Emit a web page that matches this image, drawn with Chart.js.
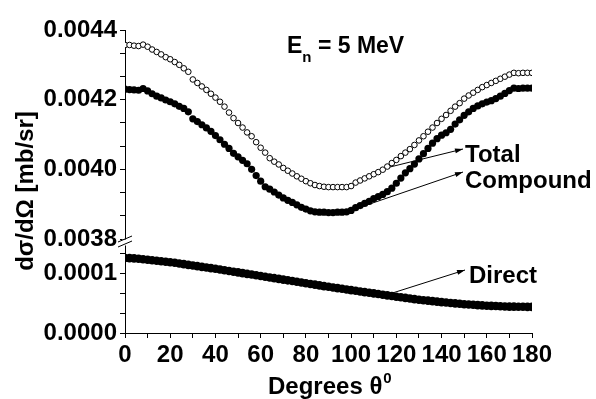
<!DOCTYPE html>
<html><head><meta charset="utf-8">
<script src="https://cdn.jsdelivr.net/npm/chart.js@4/dist/chart.umd.min.js"></script>
<style>html,body{margin:0;padding:0;background:#fff}canvas{display:block}</style>
</head><body><canvas id="c" width="596" height="399"></canvas>
<script>
const angles = [0,2,4,6,8,10,12,14,16,18,20,22,24,26,28,30,32,34,36,38,40,42,44,46,48,50,52,54,56,58,60,62,64,66,68,70,72,74,76,78,80,82,84,86,88,90,92,94,96,98,100,102,104,106,108,110,112,114,116,118,120,122,124,126,128,130,132,134,136,138,140,142,144,146,148,150,152,154,156,158,160,162,164,166,168,170,172,174,176,178,180];

const total = [0.004357,0.004357,0.004355,0.004354,0.004358,0.004352,0.004344,0.004337,0.004330,0.004322,0.004316,0.004308,0.004300,0.004290,0.004280,0.004258,0.004248,0.004238,0.004228,0.004217,0.004206,0.004194,0.004180,0.004163,0.004147,0.004133,0.004120,0.004106,0.004095,0.004078,0.004062,0.004048,0.004032,0.004022,0.004014,0.004004,0.003996,0.003988,0.003980,0.003973,0.003966,0.003960,0.003955,0.003952,0.003950,0.003949,0.003949,0.003949,0.003949,0.003949,0.003952,0.003962,0.003968,0.003974,0.003980,0.003986,0.003992,0.003999,0.004008,0.004018,0.004027,0.004038,0.004048,0.004058,0.004070,0.004083,0.004095,0.004108,0.004120,0.004133,0.004145,0.004156,0.004168,0.004180,0.004190,0.004203,0.004212,0.004220,0.004228,0.004236,0.004242,0.004248,0.004254,0.004260,0.004266,0.004272,0.004277,0.004276,0.004277,0.004277,0.004277];

const compound = [0.004230,0.004229,0.004228,0.004227,0.004232,0.004225,0.004217,0.004210,0.004205,0.004199,0.004194,0.004188,0.004181,0.004175,0.004165,0.004145,0.004137,0.004128,0.004119,0.004109,0.004097,0.004085,0.004072,0.004060,0.004046,0.004036,0.004026,0.004016,0.004000,0.003982,0.003966,0.003950,0.003943,0.003935,0.003926,0.003918,0.003911,0.003905,0.003898,0.003891,0.003886,0.003881,0.003878,0.003877,0.003877,0.003876,0.003876,0.003877,0.003877,0.003878,0.003882,0.003890,0.003896,0.003902,0.003908,0.003916,0.003922,0.003928,0.003936,0.003946,0.003960,0.003975,0.003990,0.004002,0.004015,0.004030,0.004045,0.004060,0.004075,0.004088,0.004098,0.004105,0.004115,0.004130,0.004142,0.004155,0.004165,0.004175,0.004182,0.004188,0.004193,0.004197,0.004203,0.004210,0.004218,0.004226,0.004233,0.004232,0.004233,0.004233,0.004233];

const direct = [0.0001250,0.0001248,0.0001244,0.0001238,0.0001230,0.0001220,0.0001213,0.0001205,0.0001197,0.0001189,0.0001180,0.0001170,0.0001159,0.0001148,0.0001136,0.0001125,0.0001114,0.0001103,0.0001092,0.0001081,0.0001070,0.0001058,0.0001046,0.0001034,0.0001022,0.0001010,0.0000998,0.0000986,0.0000974,0.0000962,0.0000950,0.0000938,0.0000926,0.0000914,0.0000902,0.0000890,0.0000878,0.0000866,0.0000854,0.0000842,0.0000830,0.0000818,0.0000806,0.0000794,0.0000782,0.0000770,0.0000759,0.0000748,0.0000737,0.0000726,0.0000715,0.0000704,0.0000693,0.0000682,0.0000671,0.0000660,0.0000649,0.0000638,0.0000627,0.0000616,0.0000605,0.0000595,0.0000585,0.0000575,0.0000565,0.0000555,0.0000547,0.0000539,0.0000531,0.0000523,0.0000515,0.0000508,0.0000501,0.0000494,0.0000487,0.0000480,0.0000475,0.0000470,0.0000465,0.0000460,0.0000455,0.0000452,0.0000449,0.0000446,0.0000443,0.0000440,0.0000439,0.0000438,0.0000437,0.0000436,0.0000435];

const xTickLabels = ['0','20','40','60','80','100','120','140','160','180'];
const topTickLabels = ['0.0038','0.0040','0.0042','0.0044'];
const bottomTickLabels = ['0.0000','0.0001'];
const seriesNames = ['Total','Compound','Direct'];

const FONT = '"Liberation Sans", Arial, sans-serif';
Chart.defaults.font.family = FONT;
Chart.defaults.font.weight = 'bold';
Chart.defaults.font.size = 24;
Chart.defaults.color = '#000';

function withMinors(majors) {
  const vals = majors.map(Number);
  const out = [];
  for (let i = 0; i < vals.length; i++) {
    out.push(vals[i]);
    const step = i < vals.length - 1 ? vals[i + 1] - vals[i] : vals[i] - vals[i - 1];
    out.push(vals[i] + step / 3);
    if (i < vals.length - 1) out.push(vals[i] + 2 * step / 3);
  }
  return out;
}
const topTicks = withMinors(topTickLabels).filter(v => v <= 0.0044 + 1e-9);
const botTicks = withMinors(bottomTickLabels);
function majorLabel(labels) {
  return function (v) {
    for (const l of labels) if (Math.abs(Number(l) - v) < 1e-9) return l;
    return '';
  };
}

const pts = arr => angles.map((a, i) => ({x: a, y: arr[i]}));

const yCommon = {
  type: 'linear',
  position: 'left',
  stack: 'ys',
  offset: false,
  border: {color: '#000', width: 1},
  grid: {drawOnChartArea: false, drawTicks: true, tickLength: 5, color: '#000', tickColor: '#000'},
  afterFit: s => { s.width = 125; }
};

const annot = {
  id: 'annot',
  afterDraw(chart) {
    const ctx = chart.ctx;
    ctx.save();
    // axis break
    ctx.fillStyle = '#fff';
    ctx.fillRect(122, 239.5, 7, 6);
    ctx.strokeStyle = '#000';
    ctx.lineWidth = 1;
    ctx.beginPath();
    ctx.moveTo(118, 242); ctx.lineTo(132, 236);
    ctx.moveTo(118, 247); ctx.lineTo(132, 241);
    ctx.stroke();

    ctx.fillStyle = '#000';
    ctx.textBaseline = 'alphabetic';
    ctx.textAlign = 'left';
    // E_n = 5 MeV
    ctx.font = 'bold 23px ' + FONT;
    ctx.fillText('E', 287, 53);
    let w = ctx.measureText('E').width;
    ctx.font = 'bold 15px ' + FONT;
    ctx.fillText('n', 287 + w, 62);
    const w2 = ctx.measureText('n').width;
    ctx.font = 'bold 23px ' + FONT;
    ctx.fillText(' = 5 MeV', 287 + w + w2, 53);

    // series labels
    ctx.font = 'bold 24px ' + FONT;
    ctx.fillText(seriesNames[0], 465, 162);
    ctx.fillText(seriesNames[1], 465, 188);
    ctx.fillText(seriesNames[2], 469, 283);

    // arrows
    function arrow(x1, y1, x2, y2) {
      ctx.beginPath();
      ctx.moveTo(x1, y1); ctx.lineTo(x2, y2);
      ctx.stroke();
      const ang = Math.atan2(y2 - y1, x2 - x1);
      const L = 8, H = 2.5;
      ctx.beginPath();
      ctx.moveTo(x2, y2);
      ctx.lineTo(x2 - L * Math.cos(ang) + H * Math.sin(ang), y2 - L * Math.sin(ang) - H * Math.cos(ang));
      ctx.lineTo(x2 - L * Math.cos(ang) - H * Math.sin(ang), y2 - L * Math.sin(ang) + H * Math.cos(ang));
      ctx.closePath();
      ctx.fill();
    }
    ctx.lineWidth = 1;
    arrow(390, 167, 463, 149);
    arrow(358, 208, 463, 172);
    arrow(383, 296, 465, 270);

    // x title
    ctx.font = 'bold 24px ' + FONT;
    const t1 = 'Degrees \u03B8';
    ctx.fillText(t1, 268, 394);
    const tw = ctx.measureText(t1).width;
    ctx.font = 'bold 15px ' + FONT;
    ctx.fillText('0', 268 + tw + 1, 383);

    // y title
    ctx.translate(33, 191);
    ctx.rotate(-Math.PI / 2);
    ctx.font = 'bold 24px ' + FONT;
    ctx.textAlign = 'center';
    ctx.fillText('d\u03C3/d\u03A9 [mb/sr]', 0, 0);
    ctx.restore();
  }
};

new Chart(document.getElementById('c'), {
  type: 'scatter',
  data: {
    datasets: [
      {label: seriesNames[2], data: pts(direct), yAxisID: 'yBot', pointRadius: 4.3, pointBackgroundColor: '#000', pointBorderColor: '#000', pointBorderWidth: 0},
      {label: seriesNames[1], data: pts(compound), yAxisID: 'yTop', pointRadius: 3.6, pointBackgroundColor: '#000', pointBorderColor: '#000', pointBorderWidth: 0},
      {label: seriesNames[0], data: pts(total), yAxisID: 'yTop', pointRadius: 2.8, pointBackgroundColor: '#fff', pointBorderColor: '#000', pointBorderWidth: 1}
    ]
  },
  options: {
    responsive: false,
    animation: false,
    devicePixelRatio: 1,
    layout: {padding: {left: 0, top: 30, right: 64, bottom: 0}},
    plugins: {legend: {display: false}, tooltip: {enabled: false}},
    scales: {
      x: {
        type: 'linear', position: 'bottom', min: 0, max: 180,
        border: {color: '#000', width: 1},
        grid: {drawOnChartArea: false, drawTicks: true, tickLength: 5, color: '#000', tickColor: '#000'},
        ticks: {stepSize: 10, autoSkip: false, maxRotation: 0, padding: 3,
          callback: v => xTickLabels.includes(String(v)) ? String(v) : ''},
        afterFit: s => { s.height = 66; }
      },
      yBot: Object.assign({}, yCommon, {
        min: 0, max: 0.0001517, stackWeight: 91,
        afterBuildTicks: s => { s.ticks = botTicks.map(v => ({value: v})); },
        ticks: {autoSkip: false, padding: 3, callback: majorLabel(bottomTickLabels)}
      }),
      yTop: Object.assign({}, yCommon, {
        min: 0.0037914, max: 0.0044, stackWeight: 212,
        afterBuildTicks: s => { s.ticks = topTicks.map(v => ({value: v})); },
        ticks: {autoSkip: false, padding: 3, callback: majorLabel(topTickLabels)}
      })
    }
  },
  plugins: [annot]
});
</script>
</body></html>
